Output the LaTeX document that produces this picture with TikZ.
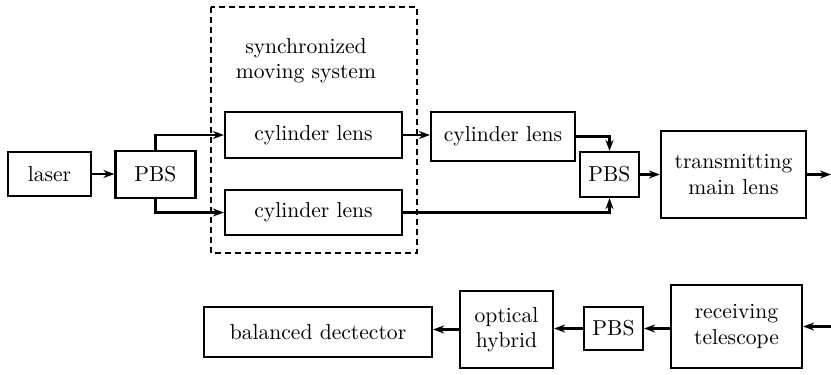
\documentclass[tikz,border=0pt]{standalone}
\usetikzlibrary{arrows.meta,positioning}

\begin{document}
\begin{tikzpicture}[%
    x=0.5pt, y=-0.5pt,             % one unit is one pixel of the sketch
    >={Stealth[length=5.5pt,width=4pt]},
    line width=1.1pt,
    font=\fontsize{10.8}{12.6}\selectfont,
    ]
\tikzset{
  base/.style={draw, rectangle, align=center, inner sep=0pt, line width=1.1pt},
  proc/.style={base},
  frame/.style={draw, dash pattern=on 3pt off 2pt, line width=1.1pt},
}
\useasboundingbox (0,0) rectangle (831,375);

% sending path
\node [proc, minimum width=41.5pt, minimum height=22pt]   (p0) at (49.5,174)  {laser};
\node [proc, minimum width=40pt,   minimum height=23.5pt] (p1) at (155.5,174.5) {PBS};
\node [proc, minimum width=88.5pt, minimum height=23pt]   (p2) at (313.5,135) {cylinder lens};
\node [proc, minimum width=88.5pt, minimum height=22.5pt] (p3) at (313.5,212.5) {cylinder lens};
\node [proc, minimum width=72pt,   minimum height=24.5pt] (p4) at (503,136.5) {cylinder lens};
\node [proc, minimum width=29.5pt, minimum height=22.5pt] (p5) at (609.5,174.5) {PBS};
\node [proc, minimum width=72.5pt, minimum height=43.5pt] (p6) at (733.5,174.5) {transmitting\\main lens};

% receiving path
\node [proc, minimum width=65.5pt, minimum height=41.5pt] (p7) at (736.5,326.5) {receiving\\telescope};
\node [proc, minimum width=29.5pt, minimum height=21.5pt] (p8) at (613.5,328.5) {PBS};
\node [proc, minimum width=46.5pt, minimum height=38.5pt] (p9) at (506.5,329.5) {optical\\hybrid};
\node [proc, minimum width=114pt,  minimum height=25pt]   (p10) at (318,332) {balanced dectector};

% moving frame
\draw [frame] (211,7) rectangle (417,253);
\node [align=center] (f0) at (306,61) {synchronized\\moving system};

\coordinate (out) at (831,174.5);
\coordinate (in) at (831,326.5);

%connect
\draw [->] (p0.east) -- (p1.west |- p0.east);
\draw [->] (p1.north) |- (p2.west);
\draw [->] (p1.south) |- (p3.west);
\draw [->] (p2.east) -- (p2.east -| p4.west);
\draw [->] (p4.east) -| (p5.north);
\draw [->] (p3.east) -| (p5.south);
\draw [->] (p5.east) -- (p6.west);
\draw [->] (p6.east) -- (out);

\draw [->] (in) -- (p7.east);
\draw [->] (p7.west |- p8.east) -- (p8.east);
\draw [->] (p8.west) -- (p9.east |- p8.west);
\draw [->] (p9.west) -- (p10.east |- p9.west);

\end{tikzpicture}
\end{document}
